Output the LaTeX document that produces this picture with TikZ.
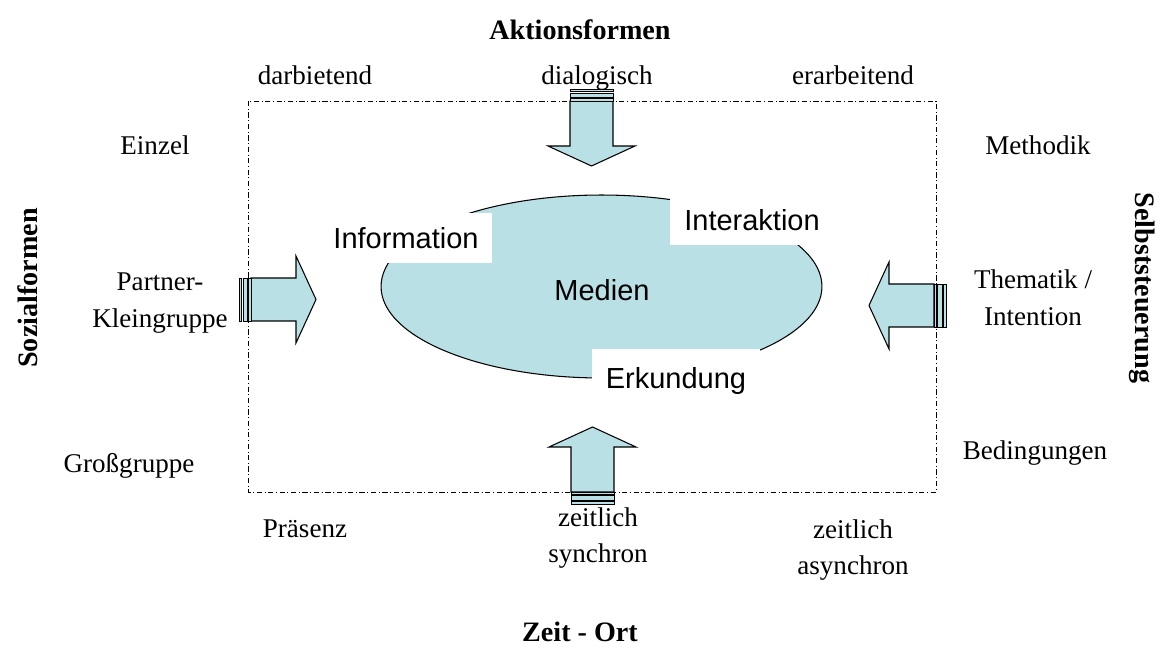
\documentclass[tikz,border=0pt]{standalone}
\usepackage{fontspec}
\setmainfont{Liberation Serif}
\setsansfont{Liberation Sans}
\usetikzlibrary{shapes.geometric}
\definecolor{medien}{RGB}{185,224,228}

\def\blockarrow#1#2{
	\begin{scope}[shift={(#1)}, rotate=#2, line width=0.6pt]
		\draw[fill=medien] (0,-21.5) -- (45,-21.5) -- (45,-43.5) -- (65,0)
			-- (45,43.5) -- (45,21.5) -- (0,21.5) -- cycle;
		% the stripes at the tail
		\draw[fill=medien, line width=0.4pt] (-12,-21.5) rectangle (-9.5,21.5);
		\draw[fill=medien, line width=0.4pt] (-8,-21.5) rectangle (-3.5,21.5);
		\draw[fill=medien, line width=0.4pt] (-2.5,-21.5) rectangle (0,21.5);
	\end{scope}
}

\begin{document}
\begin{tikzpicture}[x=0.02cm, y=-0.02cm,
	label/.style={font=\fontsize{15.4}{21}\selectfont, align=center, inner sep=0pt},
	wort/.style={label, text height=1.6ex, text depth=0.45ex},
	titel/.style={font=\fontsize{16}{19}\selectfont\bfseries, inner sep=0pt},
	kasten/.style={fill=white, font=\sffamily\fontsize{16.5}{19}\selectfont, inner sep=0pt}]
	\useasboundingbox (0,0) rectangle (1167,648);

	\draw[line width=0.5pt, dash pattern=on 3pt off 1.5pt on 0.5pt off 1.5pt]
		(248,101) rectangle (936,492);

	\node[ellipse, draw, fill=medien, line width=0.6pt, inner sep=0pt,
		minimum width=8.82cm, minimum height=3.66cm] (M) at (601.5,286.5) {};
	\node[font=\sffamily\fontsize{16.5}{19}\selectfont] (medien) at (602,290) {Medien};

	\node[kasten, minimum width=3.44cm, minimum height=1cm] (info) at (406,238) {Information};
	\node[kasten, minimum width=3.3cm, minimum height=1cm] (inter) at (752,220) {Interaktion};
	\node[kasten, minimum width=3.36cm, minimum height=1.3cm] (erk) at (676,381) {Erkundung};

	\blockarrow{591.5,101}{-90}
	\blockarrow{251,299.5}{0}
	\blockarrow{934,305.5}{180}
	\blockarrow{592.5,492}{90}

	\node[titel] (aktion) at (580,30) {Aktionsformen};
	\node[titel] (zeit) at (580,632) {Zeit - Ort};
	\node[titel, rotate=90] (sozial) at (28,288) {Sozialformen};
	\node[titel, rotate=-90] (selbst) at (1142,288) {Selbststeuerung};

	\node[wort] (darb) at (315,80) {darbietend};
	\node[wort] (dial) at (597,80) {dialogisch};
	\node[wort] (erarb) at (853,80) {erarbeitend};

	\node[wort] (einzel) at (155,150) {Einzel};
	\node[label] (partner) at (160,303) {Partner-\\Kleingruppe};
	\node[wort] (gross) at (129,468) {Großgruppe};

	\node[wort] (methodik) at (1038,150) {Methodik};
	\node[label] (thema) at (1033,298) {Thematik /\\Intention};
	\node[wort] (beding) at (1035,455) {Bedingungen};

	\node[wort] (praesenz) at (305,533) {Präsenz};
	\node[label] (sync) at (598,538) {zeitlich\\synchron};
	\node[label] (async) at (853,550) {zeitlich\\asynchron};
\end{tikzpicture}
\end{document}
